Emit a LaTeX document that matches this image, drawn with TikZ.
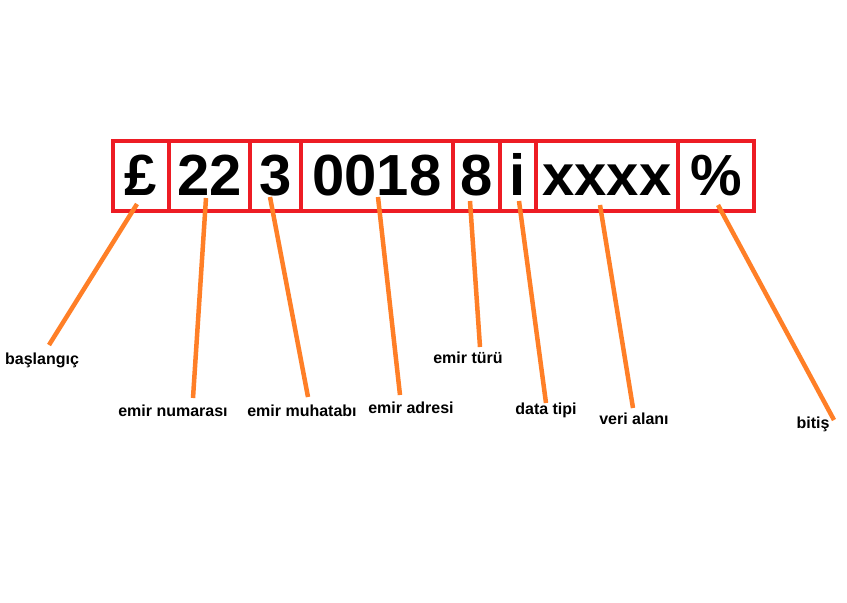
\documentclass[tikz,border=0pt]{standalone}
\usepackage{fontspec}
\setmainfont{Liberation Sans}
\definecolor{pred}{HTML}{ED1C24}
\definecolor{porange}{HTML}{FF7F27}
\begin{document}
\begin{tikzpicture}[x=1pt,y=-1pt,
  cell/.style={draw=pred,line width=4pt,minimum height=70pt,inner sep=0pt,
    text height=44pt,text depth=6pt,font=\bfseries\fontsize{58}{58}\selectfont},
  lbl/.style={inner sep=0pt,font=\bfseries\fontsize{16}{16}\selectfont},
  conn/.style={draw=porange,line width=4.5pt}]
\useasboundingbox (0,0) rectangle (847,603);
\fill[white] (0,0) rectangle (847,603);
% cells
\node[cell,minimum width=56pt]  (c1) at (141,176) {£};
\node[cell,minimum width=81pt]  (c2) at (209.5,176) {22};
\node[cell,minimum width=51pt]  (c3) at (275.5,176) {3};
\node[cell,minimum width=152pt] (c4) at (377,176) {0018};
\node[cell,minimum width=47pt]  (c5) at (476.5,176) {8};
\node[cell,minimum width=36pt]  (c6) at (518,176) {i};
\node[cell,minimum width=142pt] (c7) at (607,176) {xxxx};
\node[cell,minimum width=76pt]  (c8) at (716,176) {\%};
% labels
\node[lbl] (l1) at (42,360) {başlangıç};
\node[lbl] (l2) at (173,411) {emir numarası};
\node[lbl] (l3) at (302,411) {emir muhatabı};
\node[lbl] (l4) at (411,408) {emir adresi};
\node[lbl] (l5) at (468,358) {emir türü};
\node[lbl] (l6) at (546,410) {data tipi};
\node[lbl] (l7) at (634,419) {veri alanı};
\node[lbl] (l8) at (813,424) {bitiş};
% connector ends
\coordinate (s1) at (137,204); \coordinate (e1) at (49,345);
\coordinate (s2) at (206,198); \coordinate (e2) at (193,398);
\coordinate (s3) at (270,197); \coordinate (e3) at (308,397);
\coordinate (s4) at (378,197); \coordinate (e4) at (400,395);
\coordinate (s5) at (470,201); \coordinate (e5) at (480,347);
\coordinate (s6) at (519,201); \coordinate (e6) at (546,403);
\coordinate (s7) at (600,205); \coordinate (e7) at (633,408);
\coordinate (s8) at (718,205); \coordinate (e8) at (834,420);
\foreach \i in {1,...,8} {\draw[conn] (s\i) -- (e\i);}
\end{tikzpicture}
\end{document}
